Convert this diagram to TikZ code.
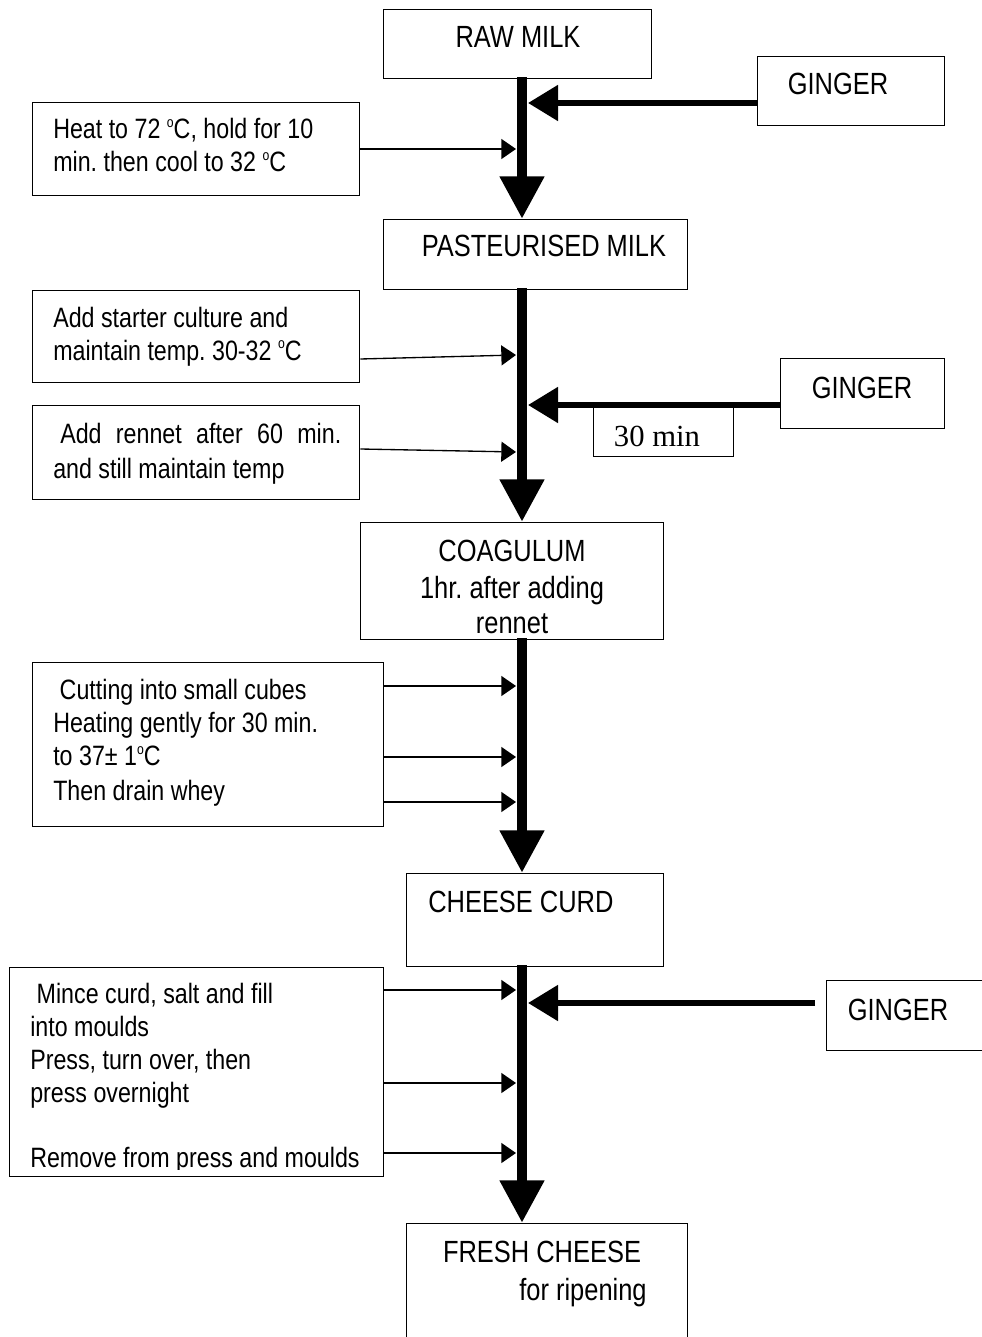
\documentclass[tikz,border=0pt]{standalone}
\usepackage{fontspec}
\setmainfont{Liberation Sans}[FakeStretch=0.83]
\newfontfamily\timesfont{Liberation Serif}
\usetikzlibrary{arrows.meta,positioning,calc}
\newcommand{\degc}{\raisebox{0.75ex}{\fontsize{11}{11}\selectfont o}C}
\frenchspacing

\begin{document}
\begin{tikzpicture}[
    x=0.75pt, y=-0.75pt,
    box/.style 2 args={draw, line width=1.1pt, anchor=north west, inner sep=0pt,
                minimum width=#1*0.75pt, minimum height=#2*0.75pt},
    txt/.style={inner sep=0pt, font=\fontsize{21}{24.75}\selectfont},
    head/.style={inner sep=0pt, font=\fontsize{23}{27}\selectfont},
    mainarrow/.style={-{Triangle[width=31.5pt,length=32pt]}, line width=8pt},
    gingerarrow/.style={-{Triangle[width=26pt,length=22.5pt]}, line width=4.5pt},
    thinarrow/.style={-{Triangle[width=15pt,length=11pt]}, line width=1pt}
]
\useasboundingbox (0,0) rectangle (981,1337);

% Boxes
\node[box={268}{69}] (raw) at (383,9) {};
\node[box={187}{69}] (ginger1) at (757,56) {};
\node[box={327}{93}] (heat) at (32,102) {};
\node[box={304}{70}] (past) at (383,219) {};
\node[box={327}{92}] (starter) at (32,290) {};
\node[box={327}{94}] (rennet) at (32,405) {};
\node[box={164}{70}] (ginger2) at (780,358) {};
\node[box={303}{117}] (coag) at (360,522) {};
\node[box={351}{164}] (cut) at (32,662) {};
\node[box={257}{93}] (curd) at (406,873) {};
\node[box={374}{209}] (mince) at (9,967) {};
\node[box={170}{70}] (ginger3) at (826,980) {};
\node[box={281}{140}] (fresh) at (406,1223) {};

% Spine of the flow
\coordinate (spine) at (522,0);

% Main arrows
\draw[mainarrow] ([yshift=1.5pt]raw.south -| spine) -- (past.north -| spine);
\draw[mainarrow] ([yshift=1.5pt]past.south -| spine) -- (coag.north -| spine);
\draw[mainarrow] ([yshift=1.5pt]coag.south -| spine) -- (curd.north -| spine);
\draw[mainarrow] ([yshift=1.5pt]curd.south -| spine) -- (fresh.north -| spine);

% Ginger arrows
\coordinate (g1) at (528,103);
\coordinate (g2) at (528,405);
\coordinate (g3) at (528,1003);
\draw[gingerarrow] (ginger1.west |- g1) -- (g1);
\draw[gingerarrow] (ginger2.west |- g2) -- (g2);
\draw[gingerarrow] ($(ginger3.north west)+(-11,23)$) -- (g3);
\node[box={140}{49}, fill=white] (thirty) at (593,407) {};

% Thin arrows
\coordinate (h1) at (516,149);
\coordinate (s1) at (516,355);
\coordinate (r1) at (516,452);
\draw[thinarrow] (heat.east |- h1) -- (h1);
\draw[thinarrow] ($(starter.north east)+(0,69)$) -- (s1);
\draw[thinarrow] ($(rennet.north east)+(0,44)$) -- (r1);
\foreach \yy in {686,757,802}
  \draw[thinarrow] (cut.east |- 0,\yy) -- (516,\yy);
\foreach \yy in {990,1083,1153}
  \draw[thinarrow] (mince.east |- 0,\yy) -- (516,\yy);

% Labels (base = last line of a block)
\node[head, anchor=base] (rawt) at (518,48) {RAW MILK};
\node[head, anchor=base] (g1t) at (838,95) {GINGER};
\node[txt, anchor=base west, align=left] (heatt) at (53,172)
  {Heat to 72 \degc, hold for 10\\min. then cool to 32 \degc};
\node[head, anchor=base] (pastt) at (544,257) {PASTEURISED MILK};
\node[txt, anchor=base west, align=left] (startert) at (53,360)
  {Add starter culture and\\maintain temp. 30-32 \degc};
\node[txt, anchor=base west] (rennett1) at (60,443)
  {\makebox[210.75pt][s]{Add rennet after 60 min.}};
\node[txt, anchor=base west] (rennett2) at (53,478) {and still maintain temp};
\node[head, anchor=base] (g2t) at (862,398) {GINGER};
\node[txt, anchor=base, font=\timesfont\fontsize{23}{26}\selectfont] (thirtyt) at (657,446) {30 min};
\begin{scope}
  \clip (360,522) rectangle (663,633);
  \node[head, anchor=base, align=center] (coagt) at (512,633)
    {COAGULUM\\[1pt]1hr. after adding\\[-1pt]rennet};
\end{scope}
\node[txt, anchor=base west, align=left] (cutt) at (53,800)
  {\ Cutting into small cubes\\Heating gently for 30 min.\\to 37\char"00B1\ 1\degc\\[1pt]Then drain whey};
\node[head, anchor=base west] (curdt) at (428,912) {CHEESE CURD};
\begin{scope}
  \clip (9,967) rectangle (383,1169);
  \node[txt, anchor=base west, align=left] (mincet) at (30,1167)
    {\ Mince curd, salt and fill\\into moulds\\Press, turn over, then\\press overnight\\[24pt]Remove from press and moulds};
\end{scope}
\node[head, anchor=base] (g3t) at (898,1020) {GINGER};
\node[head, anchor=base] (fresht1) at (542,1262) {FRESH CHEESE};
\node[head, anchor=base] (fresht2) at (583,1300) {for ripening};

\end{tikzpicture}
\end{document}
